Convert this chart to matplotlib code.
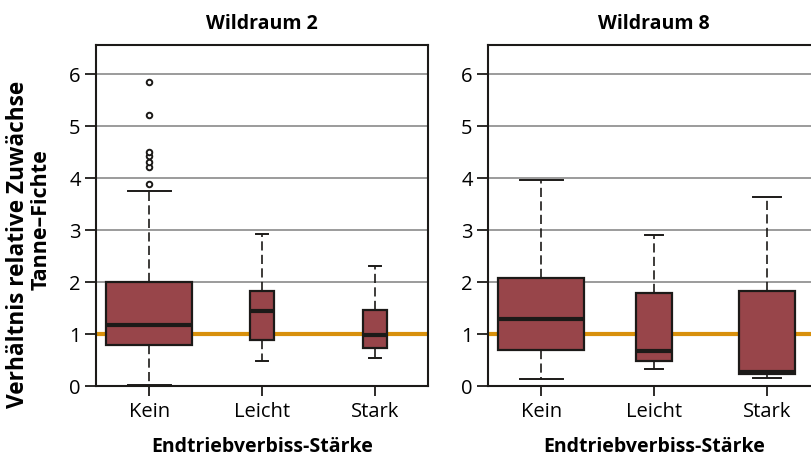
import matplotlib.pyplot as plt

plt.rcParams["font.family"] = ["Open Sans", "DejaVu Sans"]

CATEGORIES = ["Kein", "Leicht", "Stark"]
PANELS = ["Wildraum 2", "Wildraum 8"]

# five-number summaries per browsing class: lower whisker, Q1, median, Q3, upper whisker
W2_LOW = [0.01, 0.48, 0.54]
W2_Q1 = [0.78, 0.87, 0.73]
W2_MED = [1.16, 1.44, 0.97]
W2_Q3 = [1.99, 1.83, 1.46]
W2_HIGH = [3.75, 2.92, 2.30]
W2_FLIERS = [[3.87, 4.21, 4.30, 4.42, 4.50, 5.20, 5.84], [], []]
W2_WIDTHS = [0.76, 0.21, 0.21]

W8_LOW = [0.12, 0.33, 0.14]
W8_Q1 = [0.69, 0.48, 0.22]
W8_MED = [1.28, 0.66, 0.26]
W8_Q3 = [2.08, 1.78, 1.82]
W8_HIGH = [3.95, 2.90, 3.63]
W8_FLIERS = [[], [], []]
W8_WIDTHS = [0.76, 0.32, 0.50]

BOX_COLOR = "#98454a"
EDGE = "#1c1a18"
REF_COLOR = "#d8900c"


def make_stats(low, q1, med, q3, high, fliers):
    return [
        dict(whislo=lo, q1=a, med=m, q3=b, whishi=hi, fliers=f)
        for lo, a, m, b, hi, f in zip(low, q1, med, q3, high, fliers)
    ]


def draw_panel(ax, title, stats, widths):
    for y in [2, 3, 4, 5, 6]:
        ax.axhline(y, color="#8a8a8a", lw=1.2, zorder=1)
    ax.axhline(1, color=REF_COLOR, lw=3, zorder=1)
    ax.bxp(
        stats,
        positions=[1, 2, 3],
        widths=widths,
        patch_artist=True,
        boxprops=dict(facecolor=BOX_COLOR, edgecolor=EDGE, lw=1.6),
        medianprops=dict(color=EDGE, lw=3),
        whiskerprops=dict(color=EDGE, lw=1.2, linestyle=(0, (5.5, 2.6))),
        capprops=dict(color=EDGE, lw=1.4),
        capwidths=[w / 2 for w in widths],
        flierprops=dict(marker="o", markersize=4, markerfacecolor="white",
                        markeredgecolor=EDGE, markeredgewidth=1.4),
        zorder=3,
    )
    ax.set_xlim(0.53, 3.47)
    ax.set_ylim(0, 6.55)
    ax.set_xticks([1, 2, 3])
    ax.set_xticklabels(CATEGORIES, fontsize=14.5)
    ax.set_yticks(range(0, 7))
    ax.tick_params(axis="y", labelsize=14.5, length=8, width=1.3, color=EDGE,
                   pad=3)
    ax.tick_params(axis="x", length=7, width=1.3, color=EDGE, pad=4)
    for sp in ax.spines.values():
        sp.set_color(EDGE)
        sp.set_linewidth(1.5)
    ax.set_title(title, fontsize=14, fontweight="bold", pad=12)
    ax.set_xlabel("Endtriebverbiss-Stärke", fontsize=14, fontweight="bold",
                  labelpad=11)


fig = plt.figure(figsize=(8.11, 4.6), dpi=100)
ax1 = fig.add_axes([96 / 811, 73.3 / 460, 332 / 811, 340.7 / 460])
ax2 = fig.add_axes([488 / 811, 73.3 / 460, 332 / 811, 340.7 / 460])

draw_panel(ax1, PANELS[0],
           make_stats(W2_LOW, W2_Q1, W2_MED, W2_Q3, W2_HIGH, W2_FLIERS),
           W2_WIDTHS)
draw_panel(ax2, PANELS[1],
           make_stats(W8_LOW, W8_Q1, W8_MED, W8_Q3, W8_HIGH, W8_FLIERS),
           W8_WIDTHS)

# two-line y label, each line placed on its own
fig.text(18 / 811, 1 - 244 / 460, "Verhältnis relative Zuwächse",
         rotation=90, ha="center", va="center", fontsize=16.3,
         fontweight="bold")
fig.text(41 / 811, 1 - 220 / 460, "Tanne–Fichte",
         rotation=90, ha="center", va="center", fontsize=15.5,
         fontweight="bold")

fig.savefig("out.png", dpi=100)
